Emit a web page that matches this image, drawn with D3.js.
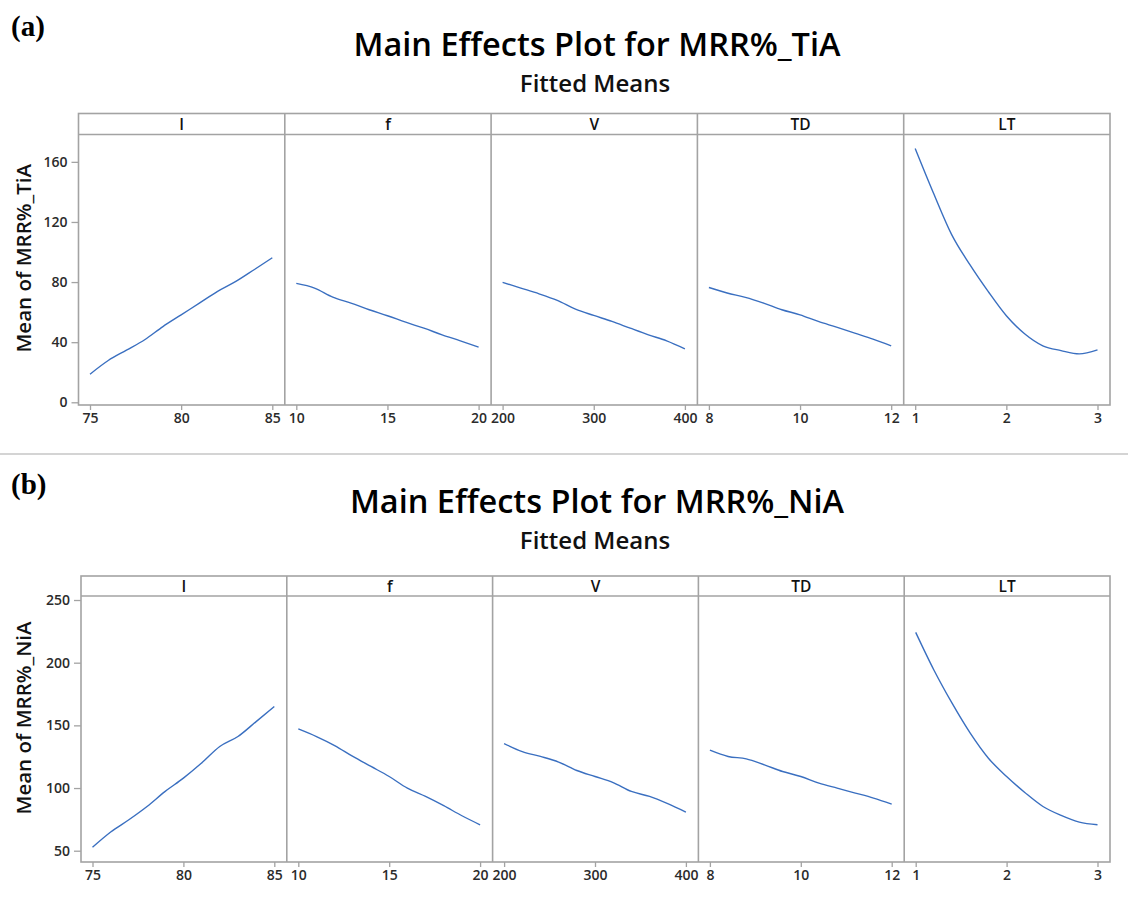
<!DOCTYPE html>
<html>
<head>
<meta charset="utf-8">
<script src="https://cdn.jsdelivr.net/npm/d3@7"></script>
<style>
  body { margin: 0; background: #fff; }
  text { font-family: "Open Sans", "Noto Sans", sans-serif; }
</style>
</head>
<body>
<script>
// factor levels (x sample points)
var factors = ["I", "f", "V", "TD", "LT"];
var levelsI  = [75, 76, 77, 78, 79, 80, 81, 82, 83, 84, 85];
var levelsF  = [10, 11, 12, 13, 14, 15, 16, 17, 18, 19, 20];
var levelsV  = [200, 220, 240, 260, 280, 300, 320, 340, 360, 380, 400];
var levelsTD = [8, 8.4, 8.8, 9.2, 9.6, 10, 10.4, 10.8, 11.2, 11.6, 12];
var levelsLT = [1, 1.2, 1.4, 1.6, 1.8, 2, 2.2, 2.4, 2.6, 2.8, 3];

var ticksI  = [75, 80, 85];
var ticksF  = [10, 15, 20];
var ticksV  = [200, 300, 400];
var ticksTD = [8, 10, 12];
var ticksLT = [1, 2, 3];

// (a) fitted means of MRR%_TiA
var tiaI  = [18.7, 27.8, 34.7, 41.6, 50.4, 58.2, 66.0, 73.8, 80.4, 88.2, 96.2];
var tiaF  = [79.1, 76.0, 70.0, 66.0, 61.6, 57.6, 53.3, 49.3, 44.9, 40.9, 36.7];
var tiaV  = [79.8, 76.0, 72.2, 67.8, 62.0, 57.8, 53.8, 49.3, 44.9, 40.9, 35.6];
var tiaTD = [76.4, 72.7, 69.8, 66.0, 61.6, 58.2, 53.8, 50.0, 46.0, 42.0, 37.6];
var tiaLT = [168.9, 139.3, 111.6, 91.6, 73.8, 57.6, 45.6, 37.6, 34.4, 32.2, 34.9];
var tiaTicks = [0, 40, 80, 120, 160];

// (b) fitted means of MRR%_NiA
var niaI  = [52.7, 64.9, 74.7, 85.3, 97.3, 107.9, 119.9, 133.1, 141.1, 153.0, 165.0];
var niaF  = [147.2, 141.1, 133.9, 125.2, 117.2, 109.2, 99.9, 93.3, 85.9, 77.9, 70.7];
var niaV  = [135.5, 129.1, 125.2, 120.7, 114.0, 109.2, 104.4, 97.3, 93.3, 87.5, 80.8];
var niaTD = [130.2, 125.2, 123.3, 118.5, 113.2, 109.2, 103.9, 99.9, 96.0, 92.0, 87.2];
var niaLT = [224.2, 194.2, 167.7, 143.8, 123.8, 109.2, 96.5, 85.3, 78.2, 72.8, 70.7];
var niaTicks = [50, 100, 150, 200, 250];

var levels = [levelsI, levelsF, levelsV, levelsTD, levelsLT];
var xTicks = [ticksI, ticksF, ticksV, ticksTD, ticksLT];

var W = 1128, H = 903;
var frameColor = "#a3a3a3";
var lineColor = "#3a6fc0";
var textColor = "#2b2b2b";

var svg = d3.select("body").append("svg")
  .attr("width", W)
  .attr("height", H);

function drawChart(c) {
  var g = svg.append("g");
  var pw = (c.right - c.left) / factors.length;
  var stripBottom = c.top + c.stripH;

  var y = d3.scaleLinear().domain(c.yDomain).range([c.bottom, stripBottom]);

  // tag and titles
  g.append("text")
    .attr("x", 11).attr("y", c.tagY)
    .style("font-family", "'Liberation Serif', 'Times New Roman', serif")
    .style("font-weight", "bold").style("font-size", "29px")
    .text(c.tag);
  g.append("text")
    .attr("x", 597).attr("y", c.titleY)
    .attr("text-anchor", "middle")
    .style("font-size", "32.5px").style("font-weight", 600).style("fill", "#000")
    .text(c.title);
  g.append("text")
    .attr("x", 595).attr("y", c.titleY + 36)
    .attr("text-anchor", "middle")
    .style("font-size", "24px").style("font-weight", 600).style("fill", "#111")
    .text("Fitted Means");

  // y axis
  var yAxis = g.append("g")
    .attr("transform", "translate(" + c.left + ",0)")
    .call(d3.axisLeft(y).tickValues(c.yTicks).tickSize(7).tickPadding(4).tickSizeOuter(0));
  yAxis.select(".domain").remove();
  yAxis.selectAll("line").attr("stroke", frameColor).attr("stroke-width", 1.3);
  yAxis.selectAll("text").style("font-size", "14px").style("font-weight", 600).style("fill", textColor);

  g.append("text")
    .attr("transform", "translate(24," + ((c.top + c.bottom) / 2 - 1) + ") rotate(-90)")
    .attr("text-anchor", "middle")
    .attr("dy", "0.35em")
    .style("font-size", "20.5px").style("font-weight", 600).style("fill", "#111")
    .text(c.yLabel);

  var line = d3.line().curve(d3.curveMonotoneX);

  factors.forEach(function(f, i) {
    var x0 = c.left + i * pw;
    var x = d3.scaleLinear()
      .domain(d3.extent(levels[i]))
      .range([x0 + 11.5, x0 + pw - 12.5]);

    var xAxis = g.append("g")
      .attr("transform", "translate(0," + c.bottom + ")")
      .call(d3.axisBottom(x).tickValues(xTicks[i]).tickFormat(d3.format("d")).tickSize(5).tickPadding(3).tickSizeOuter(0));
    xAxis.select(".domain").remove();
    xAxis.selectAll("line").attr("stroke", frameColor).attr("stroke-width", 1.3);
    xAxis.selectAll("text").style("font-size", "14px").style("font-weight", 600).style("fill", textColor);

    // strip label
    g.append("text")
      .attr("x", x0 + pw / 2).attr("y", c.top + c.stripH / 2)
      .attr("dy", "0.36em")
      .attr("text-anchor", "middle")
      .style("font-size", "15.5px").style("font-weight", 600).style("fill", "#111")
      .text(f);

    var pts = levels[i].map(function(v, k) { return [x(v), y(c.series[i][k])]; });
    g.append("path")
      .attr("d", line(pts))
      .attr("fill", "none")
      .attr("stroke", lineColor)
      .attr("stroke-width", 1.4);

    if (i > 0) {
      g.append("line")
        .attr("x1", x0).attr("x2", x0)
        .attr("y1", c.top).attr("y2", c.bottom)
        .attr("stroke", frameColor).attr("stroke-width", 1.6);
    }
  });

  // frame + strip
  g.append("rect")
    .attr("x", c.left).attr("y", c.top)
    .attr("width", c.right - c.left).attr("height", c.bottom - c.top)
    .attr("fill", "none").attr("stroke", frameColor).attr("stroke-width", 1.6);
  g.append("line")
    .attr("x1", c.left).attr("x2", c.right)
    .attr("y1", stripBottom).attr("y2", stripBottom)
    .attr("stroke", frameColor).attr("stroke-width", 1.6);
}

drawChart({
  tag: "(a)", tagY: 36,
  title: "Main Effects Plot for MRR%_TiA", titleY: 56,
  yLabel: "Mean of MRR%_TiA",
  left: 78.5, right: 1110, top: 113.5, stripH: 21, bottom: 405,
  yDomain: [-1.8, 178.2], yTicks: tiaTicks,
  series: [tiaI, tiaF, tiaV, tiaTD, tiaLT]
});

// separator between the two charts
svg.append("line")
  .attr("x1", 0).attr("x2", W)
  .attr("y1", 454).attr("y2", 454)
  .attr("stroke", "#d4d4d4").attr("stroke-width", 2);

drawChart({
  tag: "(b)", tagY: 494,
  title: "Main Effects Plot for MRR%_NiA", titleY: 513,
  yLabel: "Mean of MRR%_NiA",
  left: 81, right: 1110, top: 576, stripH: 20, bottom: 862,
  yDomain: [41, 253.2], yTicks: niaTicks,
  series: [niaI, niaF, niaV, niaTD, niaLT]
});
</script>
</body>
</html>
